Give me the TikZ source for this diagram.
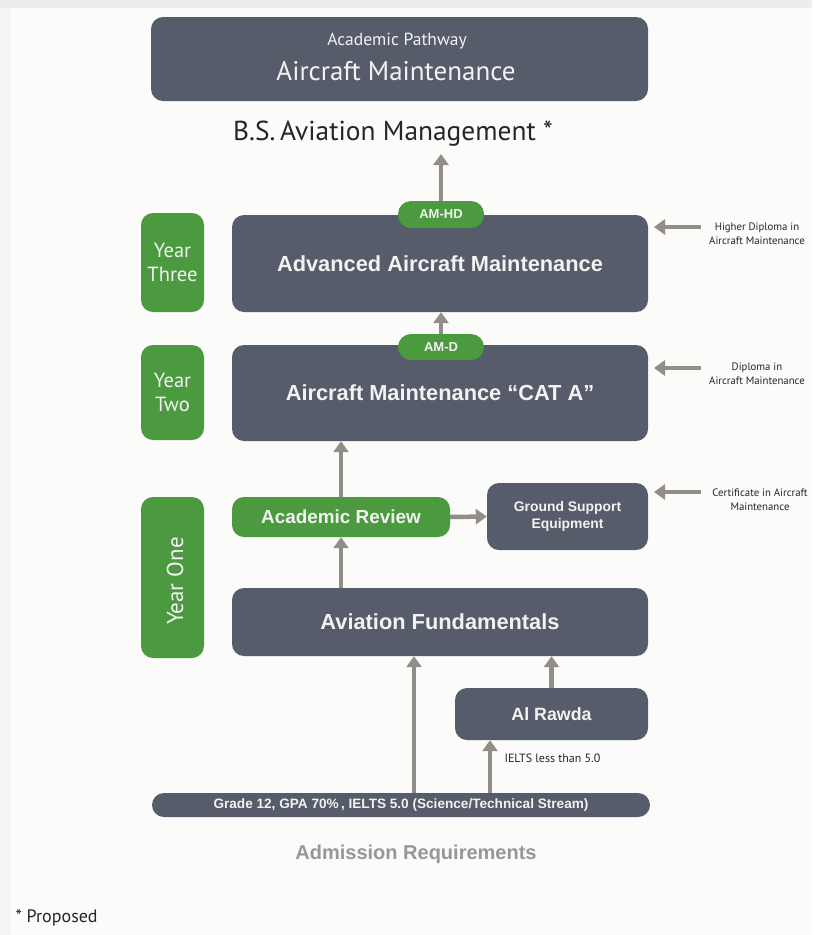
\documentclass[tikz,border=0pt]{standalone}
\usepackage{fontspec}
\setmainfont{Liberation Sans}
\newfontfamily\myr{PT Sans}
\usetikzlibrary{arrows.meta}
\definecolor{slate}{HTML}{575C6A}
\definecolor{leaf}{HTML}{4C9A40}
\definecolor{arr}{HTML}{938D89}
\definecolor{paper}{HTML}{FBFBF9}
\definecolor{softtxt}{HTML}{F2F2F2}
\definecolor{admit}{HTML}{9A9696}
\tikzset{
  darkbox/.style={fill=slate, rounded corners=12pt, text=softtxt, align=center, inner sep=0pt},
  greenbox/.style={fill=leaf, rounded corners=12pt, text=softtxt, align=center, inner sep=0pt},
  pill/.style={fill=leaf, rounded corners=13pt, text=softtxt, inner sep=0pt,
    font=\bfseries\fontsize{13}{14}\selectfont},
  flow/.style={draw=arr, line width=4.5pt, -{Triangle[width=15pt,length=11pt]}},
  sidelbl/.style={text=black!85, align=center, inner sep=0pt, font=\myr\fontsize{10.8}{14}\selectfont},
  coursefont/.style={font=\bfseries\fontsize{21.8}{24}\selectfont},
  yearfont/.style={font=\myr\fontsize{20.5}{24}\selectfont},
}
\begin{document}
\begin{tikzpicture}[x=1pt,y=-1pt]
  % page
  \fill[paper] (0,0) rectangle (812,935);
  \fill[black!7] (0,0) rectangle (812,8);
  \fill[black!4] (0,8) rectangle (11,935);
  \useasboundingbox (0,0) rectangle (812,935);

  % title
  \node[darkbox, minimum width=497pt, minimum height=84pt] (title) at (399.5,59) {};
  \node[text=softtxt, font=\myr\fontsize{17.5}{19}\selectfont] (sub) at (397,41) {Academic Pathway};
  \node[text=softtxt, font=\myr\fontsize{27}{29}\selectfont] (main) at (396,71) {Aircraft Maintenance};
  \node[text=black!85, font=\myr\fontsize{27.4}{29}\selectfont] (bs) at (393,134) {B.S.\,Aviation Management *};
  \coordinate (bstip) at (441,154);

  % year labels
  \node[greenbox, minimum width=63pt, minimum height=99pt, yearfont] (y3) at (172.5,262.5) {Year\\Three};
  \node[greenbox, minimum width=63pt, minimum height=95pt, yearfont] (y2) at (172.5,392.5) {Year\\Two};
  \node[greenbox, minimum width=63pt, minimum height=161pt] (y1) at (172.5,577.5) {};
  \node[rotate=90, text=softtxt, font=\myr\fontsize{23}{25}\selectfont] (y1t) at (175,581) {Year One};

  % courses
  \node[darkbox, minimum width=416pt, minimum height=97pt, coursefont] (adv) at (440,263.5) {Advanced Aircraft Maintenance};
  \node[darkbox, minimum width=416pt, minimum height=96pt, coursefont] (cata) at (440,393) {Aircraft Maintenance \char"201C CAT A\char"201D};
  \node[greenbox, minimum width=218pt, minimum height=40pt, font=\bfseries\fontsize{18.9}{21}\selectfont] (acad) at (341,517) {Academic Review};
  \node[darkbox, minimum width=161pt, minimum height=67pt, font=\bfseries\fontsize{13.9}{17}\selectfont] (gse) at (567.5,516.5) {Ground Support\\Equipment};
  \node[darkbox, minimum width=416pt, minimum height=68pt, coursefont] (avf) at (440,622) {Aviation Fundamentals};
  \node[darkbox, minimum width=193pt, minimum height=52pt, font=\bfseries\fontsize{17.8}{20}\selectfont] (alr) at (551.5,714) {Al Rawda};
  \node[darkbox, rounded corners=12pt, minimum width=498pt, minimum height=24pt, font=\bfseries\fontsize{13.6}{15}\selectfont] (bar) at (401,805) {Grade 12, GPA 70\%\,, IELTS 5.0 (Science/Technical Stream)};

  % award badges
  \node[pill, minimum width=86pt, minimum height=27pt] (amhd) at (441,214.5) {AM-HD};
  \node[pill, minimum width=86pt, minimum height=26pt] (amd) at (441,347) {AM-D};

  % progression arrows
  \draw[flow] (amhd.north) -- (bstip);
  \draw[flow] (amd.north) -- (amd.north |- adv.south);
  \draw[flow] (acad.north) -- (acad.north |- cata.south);
  \draw[flow] (acad.east) -- (gse.west);
  \draw[flow] (acad.south |- avf.north) -- (acad.south);
  \draw[flow] (alr.north) -- (alr.north |- avf.south);
  \draw[flow] ([xshift=13pt]bar.north) -- ([xshift=13pt]bar.north |- avf.south);
  \draw[flow] ([xshift=89pt]bar.north) -- ([xshift=89pt]bar.north |- alr.south);
  \node[anchor=west, text=black!85, font=\myr\fontsize{12}{14}\selectfont] (ielts) at (501,758) {IELTS less than 5.0};

  % exit awards
  \coordinate (a3) at (701,227);
  \coordinate (a2) at (701,368);
  \coordinate (a1) at (701,492);
  \draw[flow] (a3) -- (a3 -| {(654,0)});
  \draw[flow] (a2) -- (a2 -| {(654,0)});
  \draw[flow] (a1) -- (a1 -| {(654,0)});
  \node[sidelbl] (l3) at (757,234) {Higher Diploma in\\Aircraft Maintenance};
  \node[sidelbl] (l2) at (757,374) {Diploma in\\Aircraft Maintenance};
  \node[sidelbl] (l1) at (760,500) {Certificate in Aircraft\\Maintenance};

  % footer
  \node[text=admit, font=\bfseries\fontsize{20}{22}\selectfont] (adm) at (416,854) {Admission Requirements};
  \node[anchor=west, text=black!85, font=\myr\fontsize{18}{20}\selectfont] (prop) at (12,918) {* Proposed};
\end{tikzpicture}
\end{document}
